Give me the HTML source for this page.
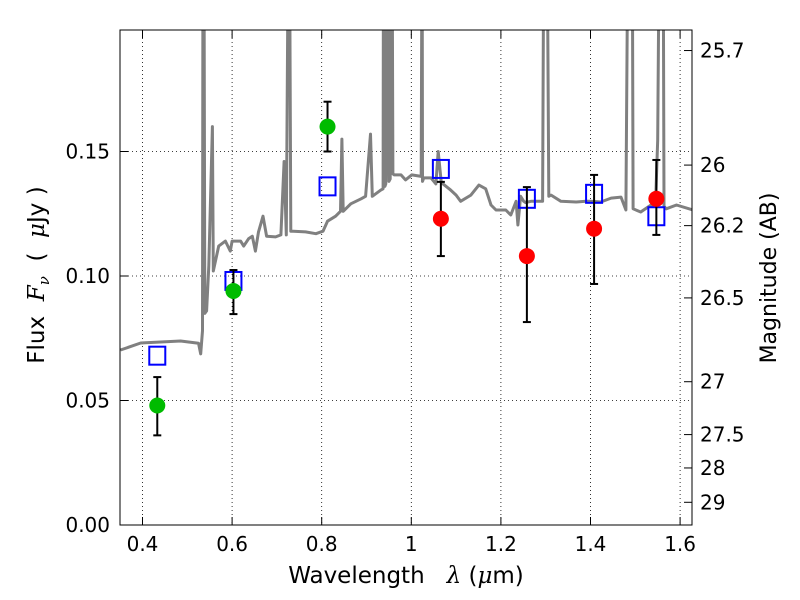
<!DOCTYPE html>
<html><head><meta charset="utf-8"><style>
html,body{margin:0;padding:0;background:#fff;width:800px;height:600px;overflow:hidden}
svg text{font-family:"DejaVu Sans","Liberation Sans",sans-serif;fill:#000}
.m{font-family:"DejaVu Serif","Liberation Serif",serif;font-style:italic}
</style></head><body>
<svg id="chart" width="800" height="600" xmlns="http://www.w3.org/2000/svg">
<defs><clipPath id="clip"><rect x="120" y="30" width="572" height="495"/></clipPath></defs>
<rect x="0" y="0" width="800" height="600" fill="#fff"/>
<g id="grid"></g>
<g id="spec" clip-path="url(#clip)"></g>
<g id="marks" clip-path="url(#clip)"></g>
<rect x="120" y="30" width="572" height="495" fill="none" stroke="#000" stroke-width="1"/>
<g id="axes"></g>
<text x="406" y="583" text-anchor="middle" font-size="23" xml:space="preserve">Wavelength   <tspan class="m">λ</tspan> (<tspan class="m">μ</tspan>m)</text>
<text transform="translate(44,275) rotate(-90)" text-anchor="middle" font-size="23" xml:space="preserve">Flux  <tspan class="m">F</tspan><tspan class="m" font-size="15" dy="5">ν</tspan><tspan dy="-5">  (  </tspan><tspan class="m">μ</tspan>Jy )</text>
<text transform="translate(776,278) rotate(-90)" text-anchor="middle" font-size="22">Magnitude (AB)</text>
</svg>
<script>
const xTicks=[0.4,0.6,0.8,1.0,1.2,1.4,1.6];
const xTickLabels=["0.4","0.6","0.8","1","1.2","1.4","1.6"];
const yTicks=[0,0.05,0.10,0.15];
const yTickLabels=["0.00","0.05","0.10","0.15"];
const magTicks=[25.7,26,26.2,26.5,27,27.5,28,29];
const magTickLabels=["25.7","26","26.2","26.5","27","27.5","28","29"];
const specWave=[0.351,0.396,0.485,0.525,0.530,0.534,0.535,0.537,0.539,0.543,0.548,0.556,0.558,0.570,0.585,0.596,0.600,0.619,0.626,0.637,0.645,0.652,0.659,0.669,0.677,0.697,0.709,0.716,0.721,0.726,0.728,0.731,0.737,0.764,0.787,0.803,0.813,0.831,0.842,0.845,0.848,0.865,0.888,0.898,0.909,0.913,0.932,0.937,0.938,0.941,0.943,0.948,0.950,0.953,0.957,0.959,0.962,0.966,0.977,0.987,1.001,1.022,1.024,1.025,1.028,1.044,1.055,1.060,1.067,1.088,1.100,1.110,1.133,1.151,1.166,1.178,1.189,1.211,1.222,1.234,1.238,1.244,1.251,1.255,1.267,1.293,1.296,1.299,1.303,1.307,1.312,1.334,1.368,1.390,1.401,1.423,1.446,1.468,1.479,1.484,1.486,1.491,1.493,1.495,1.512,1.535,1.545,1.550,1.554,1.557,1.562,1.564,1.569,1.592,1.629];
const specFlux=[0.0703,0.0731,0.0739,0.073,0.0687,0.078,0.25,0.25,0.085,0.086,0.104,0.16,0.102,0.112,0.114,0.110,0.114,0.114,0.112,0.115,0.116,0.110,0.1177,0.124,0.116,0.1157,0.1165,0.146,0.1165,0.25,0.25,0.118,0.118,0.1177,0.117,0.118,0.122,0.124,0.126,0.155,0.126,0.129,0.131,0.132,0.157,0.132,0.1345,0.135,0.25,0.136,0.137,0.25,0.138,0.139,0.25,0.141,0.1406,0.1406,0.1406,0.1386,0.1406,0.140,0.25,0.138,0.1394,0.1394,0.137,0.150,0.1375,0.1345,0.1325,0.130,0.1325,0.1365,0.135,0.1285,0.1265,0.1265,0.1245,0.130,0.1205,0.132,0.130,0.1295,0.130,0.130,0.25,0.25,0.25,0.132,0.1325,0.130,0.1297,0.130,0.130,0.1297,0.1313,0.1317,0.1265,0.25,0.25,0.25,0.25,0.127,0.1257,0.1285,0.1285,0.1546,0.25,0.25,0.25,0.128,0.127,0.1285,0.1265];
const modelWave=[0.433,0.603,0.813,1.066,1.258,1.408,1.547];
const modelFlux=[0.068,0.098,0.136,0.143,0.131,0.133,0.124];
const greenWave=[0.433,0.603,0.813];
const greenFlux=[0.048,0.094,0.160];
const greenErrLo=[0.036,0.0847,0.150];
const greenErrHi=[0.0594,0.1024,0.170];
const redWave=[1.066,1.258,1.408,1.547];
const redFlux=[0.123,0.108,0.119,0.131];
const redErrLo=[0.108,0.0815,0.0968,0.1165];
const redErrHi=[0.1378,0.1357,0.1406,0.1466];

const X=l=>142.5+(l-0.4)*448;
const Y=f=>525-f*2490;
const magToY=m=>Y(Math.pow(10,(23.9-m)/2.5));
const NS="http://www.w3.org/2000/svg";
function mk(tag,attrs,parent){const e=document.createElementNS(NS,tag);for(const k in attrs)e.setAttribute(k,attrs[k]);parent.appendChild(e);return e;}
const grid=document.getElementById('grid'),axes=document.getElementById('axes'),spec=document.getElementById('spec'),marks=document.getElementById('marks');

xTicks.forEach((t,i)=>{const x=X(t);
 const g=mk('line',{x1:x,x2:x,y1:30,y2:525,stroke:'#000','stroke-width':0.8,'stroke-dasharray':'1,3'},grid);
 
 
 mk('line',{x1:x,x2:x,y1:525,y2:517,stroke:'#000'},axes);
 mk('line',{x1:x,x2:x,y1:30,y2:38,stroke:'#000'},axes);
 const tx=mk('text',{x:x,y:551,'text-anchor':'middle','font-size':20},axes);tx.textContent=xTickLabels[i];
 
 
});
yTicks.forEach((t,i)=>{const y=Y(t);
 const g=mk('line',{x1:120,x2:692,y1:y,y2:y,stroke:'#000','stroke-width':0.8,'stroke-dasharray':'1,3'},grid);
 
 
 mk('line',{x1:120,x2:128,y1:y,y2:y,stroke:'#000'},axes);
 const tx=mk('text',{x:110,y:y+7,'text-anchor':'end','font-size':20},axes);tx.textContent=yTickLabels[i];
 
 
});
magTicks.forEach((m,i)=>{const y=magToY(m);
 mk('line',{x1:684,x2:692,y1:y,y2:y,stroke:'#000'},axes);
 const tx=mk('text',{x:700,y:y+7,'font-size':20},axes);tx.textContent=magTickLabels[i];
 
 
});
const pts=specWave.map((w,i)=>X(w).toFixed(1)+','+Y(specFlux[i]).toFixed(1)).join(' ');
const pl=mk('polyline',{points:pts,fill:'none',stroke:'#808080','stroke-width':3,'stroke-linejoin':'round'},spec);



modelWave.forEach((w,i)=>{
 const r=mk('rect',{x:X(w)-8,y:Y(modelFlux[i])-9,width:16,height:18,fill:'none',stroke:'#0000ff','stroke-width':2},marks);
 
 
});
function errPts(ws,fs,lo,hi,color,name){
 ws.forEach((w,i)=>{const x=X(w);
  const eb=mk('g',{},marks);
  
  
  mk('line',{x1:x,x2:x,y1:Y(lo[i]),y2:Y(hi[i]),stroke:'#000','stroke-width':2},eb);
  mk('line',{x1:x-4,x2:x+4,y1:Y(lo[i]),y2:Y(lo[i]),stroke:'#000','stroke-width':2},eb);
  mk('line',{x1:x-4,x2:x+4,y1:Y(hi[i]),y2:Y(hi[i]),stroke:'#000','stroke-width':2},eb);
  const c=mk('circle',{cx:x,cy:Y(fs[i]),r:8,fill:color},marks);
  
  
 });
}
errPts(greenWave,greenFlux,greenErrLo,greenErrHi,'#00bb00','hst-observed');
errPts(redWave,redFlux,redErrLo,redErrHi,'#ff0000','ir-observed');
</script>
</body></html>
